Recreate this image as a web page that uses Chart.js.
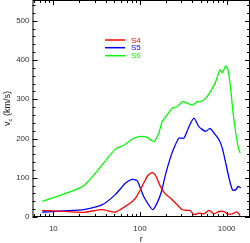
<!DOCTYPE html>
<html><head><meta charset="utf-8">
<script src="https://cdn.jsdelivr.net/npm/chart.js@4/dist/chart.umd.min.js"></script>
<style>html,body{margin:0;padding:0;background:#fff}#w{width:250px;height:243px}</style>
</head><body><div id="w"><canvas id="c"></canvas></div>
<script>
const seriesNames = ['S4','S5','S6'];
const seriesColors = ['#ff0000','#0000ff','#00ff00'];
const s4R = [7.46,22.3,36.4,51.9,67.7,80,90,105.7,120.8,130,138,146,153.6,172,193,225,269,307.5,351.6,384,419,479,547,625,714,816,933,1021,1167,1309,1430];
const s4V = [17,12,18.6,12.7,27,38,50,78,103,110,113,110,103,78,61,48,31,18.6,17,16,6,10,8,17,8,14,14,8,8,13,4];
const s5R = [7.46,22.3,36.4,51.9,67.7,81,92.4,96.6,110.4,126,140.4,157.9,177,196.9,225,246,281,321,367,419,479,501,573,643,714,816,893,977,1066,1167,1274,1355,1455];
const s5V = [12.7,18.6,31,57,86,96,93,85,52,31,18.6,36,65,108,152,175,201,201,230,252,230,226,218,226,214,197,175,137,99,69,69,78,74];
const s6R = [7.46,22.3,51.9,66.5,81,96.6,110,120.8,144,165,180,206,235,269,307.5,351.6,402,459,501,573,653,748,839,893,977,1038,1117,1186,1274,1355,1430];
const s6V = [39.7,79.6,173,184,198,205,205,203,192,214,243,260,277,281,294,290,285,294,294,303,320,345,375,368,385,375,324,265,214,180,163];
const xTicks = [10,100,1000];
const yTicks = [0,100,200,300,400,500];

const rs = [s4R,s5R,s6R], vs=[s4V,s5V,s6V];
const datasets = seriesNames.map((n,i)=>({label:n,data:rs[i].map((r,j)=>({x:r,y:vs[i][j]})),borderColor:seriesColors[i],borderWidth:1.3,pointRadius:0,pointHoverRadius:0,tension:0.2,fill:false}));

const FONT='"Liberation Sans", Arial, sans-serif';
const boxPlugin = {
  id:'box',
  afterDraw(chart){
    const ctx=chart.ctx, a=chart.chartArea, xs=chart.scales.x, ys=chart.scales.y;
    ctx.save();
    ctx.strokeStyle='#000'; ctx.lineWidth=1;
    ctx.strokeRect(a.left+0.5,a.top+0.5,a.right-a.left-1,a.bottom-a.top-1);
    for(let d=1; d<=1000; d*=10){
      for(let m=1;m<=9;m++){
        const v=d*m; if(v<xs.min||v>xs.max) continue;
        const px=Math.round(xs.getPixelForValue(v))+0.5, L=(m===1)?5:3;
        ctx.beginPath();
        ctx.moveTo(px,a.bottom); ctx.lineTo(px,a.bottom-L);
        ctx.moveTo(px,a.top); ctx.lineTo(px,a.top+L);
        ctx.stroke();
      }
    }
    for(let v=0; v<=ys.max; v+=20){
      const py=Math.round(ys.getPixelForValue(v))+0.5, L=(v%100===0)?5:3;
      ctx.beginPath();
      ctx.moveTo(a.left,py); ctx.lineTo(a.left+L,py);
      ctx.moveTo(a.right,py); ctx.lineTo(a.right-L,py);
      ctx.stroke();
    }
    ctx.fillStyle='#222';
    ctx.font='9px '+FONT;
    ctx.textAlign='center'; ctx.textBaseline='middle';
    ctx.fillText('r',(a.left+a.right)/2,239.5);
    ctx.translate(8,(a.top+a.bottom)/2);
    ctx.rotate(-Math.PI/2);
    ctx.textAlign='left';
    const t1='v', t3=' (km/s)';
    ctx.font='9px '+FONT;
    const w1=ctx.measureText(t1).width;
    ctx.font='6px '+FONT;
    const w2=ctx.measureText('c').width;
    ctx.font='9px '+FONT;
    const w3=ctx.measureText(t3).width;
    let x0=-(w1+w2+w3)/2;
    ctx.fillText(t1,x0,0);
    ctx.font='6px '+FONT;
    ctx.fillText('c',x0+w1,2.5);
    ctx.font='9px '+FONT;
    ctx.fillText(t3,x0+w1+w2,0);
    ctx.restore();
    ctx.save();
    ctx.font='8px '+FONT;
    ctx.textBaseline='middle'; ctx.textAlign='left';
    const ly=[40,47.7,55.7];
    chart.data.datasets.forEach((ds,i)=>{
      ctx.strokeStyle=ds.borderColor; ctx.lineWidth=1.5;
      ctx.beginPath(); ctx.moveTo(105,ly[i]); ctx.lineTo(125,ly[i]); ctx.stroke();
      ctx.fillStyle=ds.borderColor; ctx.fillText(ds.label,131,ly[i]+0.5);
    });
    ctx.restore();
  }
};

new Chart(document.getElementById('c'),{
  type:'line',
  data:{datasets},
  options:{
    responsive:true, maintainAspectRatio:false, animation:false,
    layout:{autoPadding:false,padding:0},
    plugins:{legend:{display:false},tooltip:{enabled:false}},
    scales:{
      x:{type:'logarithmic',min:5.75,max:1860,
        grid:{display:false,drawTicks:false},border:{display:false},
        afterBuildTicks(s){s.ticks=xTicks.map(v=>({value:v}));},
        afterFit(s){s.height=26;s.paddingLeft=0;s.paddingRight=0;},
        ticks:{color:'#333',font:{size:8,family:FONT},padding:7,maxRotation:0,autoSkip:false,callback:v=>String(v)}},
      y:{type:'linear',min:0,max:553,
        grid:{display:false,drawTicks:false},border:{display:false},
        afterBuildTicks(s){s.ticks=yTicks.map(v=>({value:v}));},
        afterFit(s){s.width=32.5;s.paddingTop=0;s.paddingBottom=0;},
        ticks:{color:'#333',font:{size:8,family:FONT},padding:3,callback:v=>String(v)}}
    }
  },
  plugins:[boxPlugin]
});
</script></body></html>
